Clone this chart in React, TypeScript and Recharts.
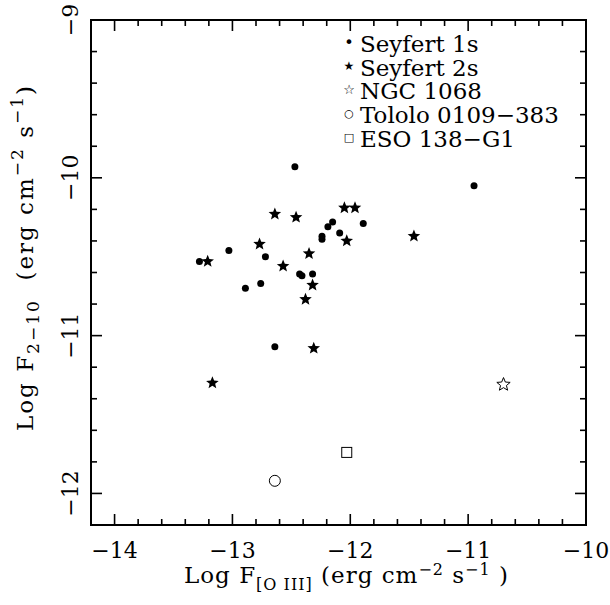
import React from 'react';
import { ScatterChart, Scatter, XAxis, YAxis, Legend } from 'recharts';

// ---- data ----
const seyfert1 = [
  { x: -12.47, y: -9.93 },
  { x: -10.95, y: -10.05 },
  { x: -13.28, y: -10.53 },
  { x: -13.03, y: -10.46 },
  { x: -12.72, y: -10.5 },
  { x: -12.89, y: -10.7 },
  { x: -12.76, y: -10.67 },
  { x: -12.43, y: -10.61 },
  { x: -12.41, y: -10.62 },
  { x: -12.32, y: -10.61 },
  { x: -12.24, y: -10.37 },
  { x: -12.24, y: -10.39 },
  { x: -12.19, y: -10.31 },
  { x: -12.15, y: -10.28 },
  { x: -12.09, y: -10.35 },
  { x: -11.89, y: -10.29 },
  { x: -12.64, y: -11.07 },
];
const seyfert2 = [
  { x: -13.21, y: -10.53 },
  { x: -12.64, y: -10.23 },
  { x: -12.46, y: -10.25 },
  { x: -12.77, y: -10.42 },
  { x: -12.57, y: -10.56 },
  { x: -12.35, y: -10.48 },
  { x: -12.05, y: -10.19 },
  { x: -11.96, y: -10.19 },
  { x: -12.03, y: -10.4 },
  { x: -11.46, y: -10.37 },
  { x: -12.32, y: -10.68 },
  { x: -12.38, y: -10.77 },
  { x: -12.31, y: -11.08 },
  { x: -13.17, y: -11.3 },
];
const ngc1068 = [{ x: -10.7, y: -11.31 }];
const tololo = [{ x: -12.64, y: -11.92 }];
const eso138 = [{ x: -12.03, y: -11.74 }];

const seriesNames = ['Seyfert 1s', 'Seyfert 2s', 'NGC 1068', 'Tololo 0109\u2212383', 'ESO 138\u2212G1'];
const legendGlyphs = ['\u2022', '\u2605', '\u2606', '\u25CB', '\u25A1'];

const xTicks = [-14, -13.8, -13.6, -13.4, -13.2, -13, -12.8, -12.6, -12.4, -12.2, -12, -11.8, -11.6, -11.4, -11.2, -11, -10.8, -10.6, -10.4, -10.2, -10];
const yTicks = [-12, -11.8, -11.6, -11.4, -11.2, -11, -10.8, -10.6, -10.4, -10.2, -10, -9.8, -9.6, -9.4, -9.2, -9];
const xDomain = [-14.2, -10];
const yDomain = [-12.2, -9];

// ---- styling ----
const FONT = '"DejaVu Serif", serif';
const FS = 22;
const MAJOR = 11;
const MINOR = 6;
const TW = 1.6;
const MARGIN = { top: 20, right: 24, bottom: 0, left: 0 };

const isMajor = (v: number) => Math.abs(v - Math.round(v)) < 1e-6;
const fmt = (v: number) => (v < 0 ? '\u2212' : '') + Math.abs(Math.round(v));

const starPath = (cx: number, cy: number, R: number, r: number) => {
  let d = '';
  for (let i = 0; i < 10; i++) {
    const a = (-90 + i * 36) * (Math.PI / 180);
    const rad = i % 2 === 0 ? R : r;
    d += (i === 0 ? 'M' : 'L') + (cx + rad * Math.cos(a)).toFixed(2) + ',' + (cy + rad * Math.sin(a)).toFixed(2);
  }
  return d + 'Z';
};

// tick labels (drawn by the axes at the library's tick positions)
const renderBottomTick = (p: any) => {
  const v = p.payload.value;
  if (!isMajor(v)) return <g key={'b' + v} />;
  return (
    <text key={'b' + v} x={p.x} y={Number(p.y) + 33} textAnchor="middle" fontFamily={FONT} fontSize={FS} fill="#000">
      {fmt(v)}
    </text>
  );
};
const renderLeftTick = (p: any) => {
  const v = p.payload.value;
  if (!isMajor(v)) return <g key={'l' + v} />;
  const tx = Number(p.x) - 13;
  const ty = Number(p.y);
  return (
    <text key={'l' + v} x={tx} y={ty} transform={`rotate(-90 ${tx} ${ty})`} textAnchor="middle" fontFamily={FONT} fontSize={FS} fill="#000">
      {fmt(v)}
    </text>
  );
};

// frame, inward tick marks on all four sides, and both axis titles
const AxisDecor = (p: any) => {
  const vb = p.viewBox || { x: 91, y: 525, width: 495, height: 80 };
  const left = vb.x;
  const right = vb.x + vb.width;
  const bottom = vb.y;
  const top = MARGIN.top;
  const sx = (v: number) => left + ((v - xDomain[0]) / (xDomain[1] - xDomain[0])) * (right - left);
  const sy = (v: number) => bottom - ((v - yDomain[0]) / (yDomain[1] - yDomain[0])) * (bottom - top);
  const cx = (left + right) / 2 + 8;
  const by = bottom + 58;
  const bx = 33;
  const cy = (bottom + top) / 2 - 15;
  return (
    <g>
      <rect x={left} y={top} width={right - left} height={bottom - top} fill="none" stroke="#000" strokeWidth={2} />
      {xTicks.map((v) => {
        const L = isMajor(v) ? MAJOR : MINOR;
        const x = sx(v);
        return (
          <g key={'xt' + v}>
            <line x1={x} x2={x} y1={bottom} y2={bottom - L} stroke="#000" strokeWidth={TW} />
            <line x1={x} x2={x} y1={top} y2={top + L} stroke="#000" strokeWidth={TW} />
          </g>
        );
      })}
      {yTicks.map((v) => {
        const L = isMajor(v) ? MAJOR : MINOR;
        const y = sy(v);
        return (
          <g key={'yt' + v}>
            <line x1={left} x2={left + L} y1={y} y2={y} stroke="#000" strokeWidth={TW} />
            <line x1={right} x2={right - L} y1={y} y2={y} stroke="#000" strokeWidth={TW} />
          </g>
        );
      })}
      <text x={cx} y={by} textAnchor="middle" fontFamily={FONT} fontSize={23} letterSpacing={1} fill="#000">
        Log F<tspan fontSize={16} dy={7}>[O III]</tspan>
        <tspan dy={-7}> (erg cm</tspan>
        <tspan fontSize={16} dy={-8}>{'\u22122'}</tspan>
        <tspan dy={8}> s</tspan>
        <tspan fontSize={16} dy={-8}>{'\u22121'}</tspan>
        <tspan dy={8}>{'\u00a0)'}</tspan>
      </text>
      <text x={bx} y={cy} transform={`rotate(-90 ${bx} ${cy})`} textAnchor="middle" fontFamily={FONT} fontSize={23} letterSpacing={2} fill="#000">
        Log F<tspan fontSize={17} dy={6}>{'2\u221210'}</tspan>
        <tspan dy={-6}>{'\u00a0\u00a0(erg cm'}</tspan>
        <tspan fontSize={17} dy={-10}>{'\u22122'}</tspan>
        <tspan dy={10}> s</tspan>
        <tspan fontSize={17} dy={-10}>{'\u22121'}</tspan>
        <tspan dy={10}>)</tspan>
      </text>
    </g>
  );
};

const DotShape = (p: any) => <circle cx={p.cx} cy={p.cy} r={3.5} fill="#000" />;
const FilledStarShape = (p: any) => <path d={starPath(p.cx, p.cy, 6.6, 2.9)} fill="#000" />;
const OpenStarShape = (p: any) => (
  <path d={starPath(p.cx, p.cy, 7, 3.1)} fill="#fff" stroke="#000" strokeWidth={1} />
);
const OpenCircleShape = (p: any) => (
  <circle cx={p.cx} cy={p.cy} r={5.5} fill="none" stroke="#000" strokeWidth={1} />
);
const OpenSquareShape = (p: any) => (
  <rect x={p.cx - 5} y={p.cy - 5} width={10} height={10} fill="none" stroke="#000" strokeWidth={1} />
);

const glyphSize = [16, 12, 13, 11, 11];

const LegendContent = () => (
  <div style={{ fontFamily: FONT, fontSize: 23, lineHeight: '23.7px', color: '#000' }}>
    {seriesNames.map((n, i) => (
      <div key={n} style={{ display: 'flex', alignItems: 'center', whiteSpace: 'nowrap' }}>
        <span
          style={{
            display: 'inline-block',
            width: 14,
            marginRight: 4,
            textAlign: 'center',
            fontFamily: '"DejaVu Sans", sans-serif',
            fontSize: glyphSize[i],
            fontWeight: i === 2 ? 'bold' : 'normal',
            position: 'relative',
            top: -2,
          }}
        >
          {legendGlyphs[i]}
        </span>
        <span>{n}</span>
      </div>
    ))}
  </div>
);

export default function App() {
  return (
    <div style={{ position: 'absolute', left: 0, top: 0, background: '#fff' }}>
      <ScatterChart width={610} height={605} margin={MARGIN}>
        <XAxis xAxisId="b" type="number" dataKey="x" domain={xDomain} ticks={xTicks}
          orientation="bottom" height={80} tickSize={0} tickMargin={0} tickLine={false} interval={0}
          axisLine={{ stroke: '#000', strokeWidth: 2 }} tick={renderBottomTick} label={<AxisDecor />} />
        <YAxis yAxisId="l" type="number" dataKey="y" domain={yDomain} ticks={yTicks}
          orientation="left" width={91} tickSize={0} tickMargin={0} tickLine={false} interval={0}
          axisLine={{ stroke: '#000', strokeWidth: 2 }} tick={renderLeftTick} />
        <Legend layout="vertical" align="center" verticalAlign="middle" content={<LegendContent />}
          wrapperStyle={{ left: 342, top: 33, width: 260 }} />
        <Scatter name={seriesNames[0]} data={seyfert1} xAxisId="b" yAxisId="l" shape={DotShape} isAnimationActive={false} />
        <Scatter name={seriesNames[1]} data={seyfert2} xAxisId="b" yAxisId="l" shape={FilledStarShape} isAnimationActive={false} />
        <Scatter name={seriesNames[2]} data={ngc1068} xAxisId="b" yAxisId="l" shape={OpenStarShape} isAnimationActive={false} />
        <Scatter name={seriesNames[3]} data={tololo} xAxisId="b" yAxisId="l" shape={OpenCircleShape} isAnimationActive={false} />
        <Scatter name={seriesNames[4]} data={eso138} xAxisId="b" yAxisId="l" shape={OpenSquareShape} isAnimationActive={false} />
      </ScatterChart>
    </div>
  );
}
